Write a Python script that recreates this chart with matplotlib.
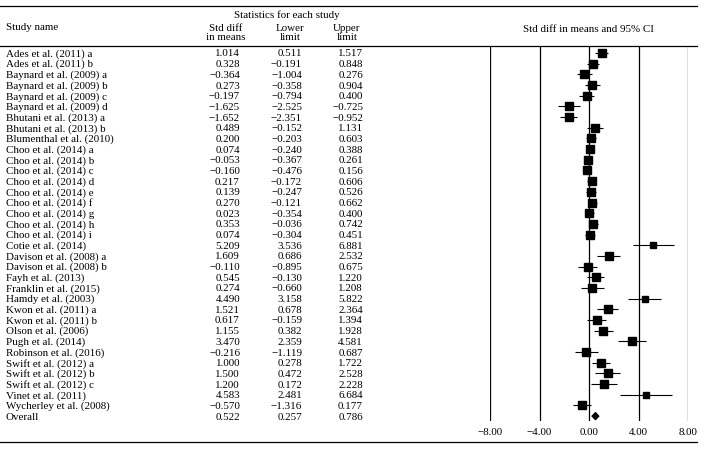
import numpy as np
import matplotlib.pyplot as plt
from matplotlib.lines import Line2D
from matplotlib.transforms import blended_transform_factory

plt.rcParams['font.family'] = ['Liberation Serif', 'DejaVu Serif']
plt.rcParams['font.size'] = 7.9

# study data
studies = ["Ades et al. (2011) a", "Ades et al. (2011) b",
           "Baynard et al. (2009) a", "Baynard et al. (2009) b",
           "Baynard et al. (2009) c", "Baynard et al. (2009) d",
           "Bhutani et al. (2013) a", "Bhutani et al. (2013) b",
           "Blumenthal et al. (2010)",
           "Choo et al. (2014) a", "Choo et al. (2014) b", "Choo et al. (2014) c",
           "Choo et al. (2014) d", "Choo et al. (2014) e", "Choo et al. (2014) f",
           "Choo et al. (2014) g", "Choo et al. (2014) h", "Choo et al. (2014) i",
           "Cotie et al. (2014)", "Davison et al. (2008) a", "Davison et al. (2008) b",
           "Fayh et al. (2013)", "Franklin et al. (2015)", "Hamdy et al. (2003)",
           "Kwon et al. (2011) a", "Kwon et al. (2011) b", "Olson et al. (2006)",
           "Pugh et al. (2014)", "Robinson et al. (2016)",
           "Swift et al. (2012) a", "Swift et al. (2012) b", "Swift et al. (2012) c",
           "Vinet et al. (2011)", "Wycherley et al. (2008)"]
smd = [1.014, 0.328, -0.364, 0.273, -0.197, -1.625, -1.652, 0.489, 0.200,
       0.074, -0.053, -0.160, 0.217, 0.139, 0.270, 0.023, 0.353, 0.074,
       5.209, 1.609, -0.110, 0.545, 0.274, 4.490, 1.521, 0.617, 1.155,
       3.470, -0.216, 1.000, 1.500, 1.200, 4.583, -0.570]
lower = [0.511, -0.191, -1.004, -0.358, -0.794, -2.525, -2.351, -0.152, -0.203,
         -0.240, -0.367, -0.476, -0.172, -0.247, -0.121, -0.354, -0.036, -0.304,
         3.536, 0.686, -0.895, -0.130, -0.660, 3.158, 0.678, -0.159, 0.382,
         2.359, -1.119, 0.278, 0.472, 0.172, 2.481, -1.316]
upper = [1.517, 0.848, 0.276, 0.904, 0.400, -0.725, -0.952, 1.131, 0.603,
         0.388, 0.261, 0.156, 0.606, 0.526, 0.662, 0.400, 0.742, 0.451,
         6.881, 2.532, 0.675, 1.220, 1.208, 5.822, 2.364, 1.394, 1.928,
         4.581, 0.687, 1.722, 2.528, 2.228, 6.684, 0.177]
overall = [0.522, 0.257, 0.786]
ticks = [-8, -4, 0, 4, 8]

W, H = 704, 452
fig = plt.figure(figsize=(W / 100, H / 100), dpi=100)


def fx(p):
    return p / W


def fy(p):
    return 1 - p / H


def fmt(v):
    return ("%.3f" % v).replace("-", "\u2212")


row0, step = 54, 10.68
ytop = (47 - row0) / step
ybot = (422 - row0) / step

ax = fig.add_axes([fx(490), fy(422), fx(688) - fx(490), (422 - 47) / H])
ax.set_xlim(-8, 8)
ax.set_ylim(ybot, ytop)
ax.axis("off")
ax.vlines(ticks, ytop, ybot, color="black", lw=0.9)

n = len(studies)
y = np.arange(n)
smd = np.array(smd)
lower = np.array(lower)
upper = np.array(upper)

# marker size from random-effects style weights
se = (upper - lower) / 3.92
w = 1 / (se ** 2 + 0.5)
msize = 6.4 * np.sqrt(w / w.max())

ax.hlines(y, lower, upper, color="black", lw=0.8)
for i in range(n):
    ax.plot(smd[i], y[i], marker="s", color="black", ms=msize[i], ls="none")

est, lo, hi = overall
ax.fill([lo, est, hi, est], [n, n - 0.33, n, n + 0.33], color="black")

# table text
tr = blended_transform_factory(fig.transFigure, ax.transData)
names = studies + ["Overall"]
col_est = list(smd) + [est]
col_lo = list(lower) + [lo]
col_hi = list(upper) + [hi]
for i in range(n + 1):
    ax.text(fx(6), i, names[i], transform=tr, ha="left", va="center")
    ax.text(fx(240), i, fmt(col_est[i]), transform=tr, ha="right", va="center")
    ax.text(fx(302), i, fmt(col_lo[i]), transform=tr, ha="right", va="center")
    ax.text(fx(363), i, fmt(col_hi[i]), transform=tr, ha="right", va="center")

# tick labels
tr2 = blended_transform_factory(ax.transData, fig.transFigure)
for t in ticks:
    ax.text(t, fy(433), fmt(t)[:-1], transform=tr2, ha="center", va="center")

# headers
fig.text(fx(287), fy(15), "Statistics for each study", ha="center", va="center")
fig.text(fx(6), fy(28), "Study name", ha="left", va="center")
fig.text(fx(226), fy(33), "Std diff\nin means", ha="center", va="center", linespacing=1.05)
fig.text(fx(290), fy(33), "Lower\nlimit", ha="center", va="center", linespacing=1.05)
fig.text(fx(347), fy(33), "Upper\nlimit", ha="center", va="center", linespacing=1.05)
fig.text(fx(588), fy(29), "Std diff in means and 95% CI", ha="center", va="center")

for yy in [7, 47, 443]:
    fig.add_artist(Line2D([0, fx(697)], [fy(yy), fy(yy)], color="black", lw=0.9))

fig.savefig("out.png", dpi=100)
